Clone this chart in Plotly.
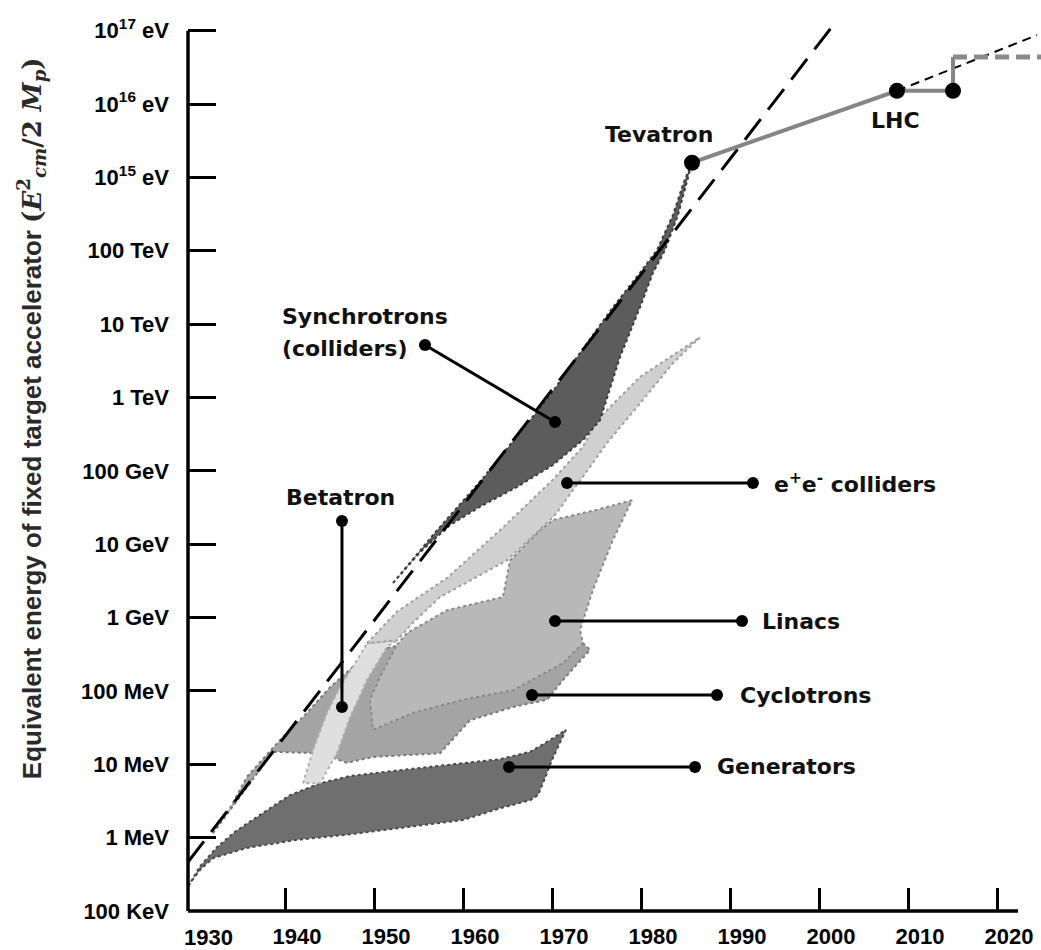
import plotly.graph_objects as go

# ---------------- data (year, log10 of equivalent energy in eV) ----------------
gen_year = [1929.1, 1930.45, 1932.36, 1934.38, 1937.19, 1940.56, 1943.93, 1947.30, 1952.92, 1958.54,
            1964.16, 1967.53, 1969.78, 1971.57, 1970.90, 1970.0, 1969.21, 1968.43, 1967.53, 1964.16,
            1960.0, 1954.38, 1946.97, 1941.35, 1935.73, 1931.91, 1930.45, 1929.33]
gen_logE = [5.33, 5.61, 5.87, 6.08, 6.31, 6.58, 6.74, 6.84, 6.92, 7.00,
            7.07, 7.17, 7.33, 7.47, 7.30, 7.06, 6.81, 6.58, 6.51, 6.40,
            6.24, 6.15, 6.04, 5.97, 5.86, 5.72, 5.56, 5.38]

cyc_year = [1931.91, 1933.82, 1935.73, 1939.44, 1942.47, 1945.06, 1947.64, 1950.67, 1955.17, 1961.91,
            1970.90, 1973.48, 1974.27, 1971.24, 1969.44, 1965.62, 1960.79, 1957.42, 1949.89, 1946.97,
            1943.93, 1938.65, 1935.5]
cyc_logE = [6.06, 6.40, 6.83, 7.33, 7.70, 8.05, 8.33, 8.56, 8.69, 8.56,
            8.69, 8.65, 8.56, 8.15, 7.88, 7.78, 7.60, 7.15, 7.10, 7.02,
            7.15, 7.17, 6.65]

lin_year = [1952.58, 1953.71, 1958.20, 1964.49, 1965.28, 1968.65, 1970.11, 1975.06, 1978.99, 1976.85,
            1974.61, 1973.15, 1973.48, 1971.24, 1965.62, 1960.0, 1954.38, 1949.89, 1949.55, 1950.67]
lin_logE = [8.63, 8.79, 9.10, 9.28, 9.78, 10.19, 10.33, 10.47, 10.60, 10.06,
            9.38, 8.83, 8.65, 8.38, 8.01, 7.88, 7.70, 7.47, 7.88, 8.19]

bet_year = [1942.02, 1943.15, 1944.72, 1946.18, 1948.09, 1949.21, 1952.58, 1951.46, 1949.21, 1947.30,
            1945.84, 1943.93]
bet_logE = [6.74, 7.19, 7.70, 8.05, 8.42, 8.65, 8.69, 8.60, 8.15, 7.64,
            7.15, 6.74]

ee_year = [1949.21, 1952.58, 1958.20, 1964.16, 1970.11, 1973.48, 1975.06, 1979.89, 1986.63,
           1983.60, 1979.89, 1976.18, 1973.48, 1972.36, 1970.56, 1969.78, 1964.94, 1957.42, 1954.38, 1952.58]
ee_logE = [8.65, 9.08, 9.54, 10.19, 10.88, 11.33, 11.69, 12.28, 12.82,
           12.47, 11.92, 11.38, 10.92, 10.74, 10.43, 10.33, 9.78, 9.28, 8.93, 8.69]

syn_year = [1952.13, 1957.08, 1962.25, 1969.78, 1972.81, 1976.85, 1979.89, 1981.80, 1983.60, 1984.83, 1985.73,
            1985.06, 1984.16, 1982.70, 1981.35, 1979.89, 1977.64, 1975.39, 1973.48, 1970.11, 1966.07,
            1961.91, 1958.54, 1955.17]
syn_logE = [9.47, 10.19, 10.90, 12.03, 12.55, 13.23, 13.70, 14.01, 14.49, 14.94, 15.20,
            14.90, 14.49, 14.01, 13.70, 13.23, 12.55, 11.69, 11.42, 11.08, 10.78,
            10.51, 10.26, 9.89]

trend_year = [1929.1, 2001.5]
trend_logE = [5.668, 17.06]

hadron_year = [1985.73, 2008.76, 2015.06, 2015.06]
hadron_logE = [15.20, 16.18, 16.18, 16.64]
upgrade_year = [2015.06, 2025.0]
upgrade_logE = [16.64, 16.64]
extrap_year = [2008.76, 2024.5]
extrap_logE = [16.18, 16.94]
milestone_year = [1985.73, 2008.76, 2015.06]
milestone_logE = [15.20, 16.18, 16.18]

# label leaders: (name, year0, logE0, year1, logE1)
leaders = [
    ("Synchrotrons", 1955.73, 12.715, 1970.34, 11.666),
    ("Betatron", 1946.4, 10.316, 1946.4, 7.781),
    ("e+e- colliders", 1971.69, 10.834, 1992.58, 10.834),
    ("Linacs", 1970.34, 8.953, 1991.35, 8.953),
    ("Cyclotrons", 1967.75, 7.944, 1988.54, 7.944),
    ("Generators", 1965.17, 6.963, 1986.07, 6.963),
]

# text labels: (text, year, logE, xanchor)
labels = [
    ("Synchrotrons", 1939.44, 13.11, "left"),
    ("(colliders)", 1939.44, 12.661, "left"),
    ("Betatron", 1946.29, 10.643, "center"),
    ("e<sup>+</sup>e<sup>-</sup> colliders", 1994.72, 10.834, "left"),
    ("Linacs", 1993.37, 8.953, "left"),
    ("Cyclotrons", 1990.90, 7.944, "left"),
    ("Generators", 1988.31, 6.963, "left"),
    ("Tevatron", 1982.02, 15.578, "center"),
    ("LHC", 2008.54, 15.78, "center"),
]

y_tick_logE = list(range(5, 18))
y_tick_text = ["100 KeV", "1 MeV", "10 MeV", "100 MeV", "1 GeV", "10 GeV", "100 GeV",
               "1 TeV", "10 TeV", "100 TeV", "10<sup>15</sup> eV", "10<sup>16</sup> eV", "10<sup>17</sup> eV"]
x_tick_years = [1940, 1950, 1960, 1970, 1980, 1990, 2000, 2010, 2020]
first_year_label = 1930

X_RANGE = [1929.1, 2024.944]
Y_RANGE = [5.0, 17.418]
AXIS_END_YEAR = 2022.36
AXIS_TOP_LOGE = 17

# ---------------- figure ----------------
def E(v):
    return [10 ** a for a in v]

fig = go.Figure()

regions = [
    (gen_year, gen_logE, "#6f6f6f", "#4a4a4a"),
    (cyc_year, cyc_logE, "#a4a4a4", "#7a7a7a"),
    (lin_year, lin_logE, "#b8b8b8", "#8a8a8a"),
    (bet_year, bet_logE, "#dfdfdf", "#b0b0b0"),
    (ee_year, ee_logE, "#d0d0d0", "#a0a0a0"),
    (syn_year, syn_logE, "#5c5c5c", "#3c3c3c"),
]
for xs, ys, fc, lc in regions:
    fig.add_trace(go.Scatter(x=xs + xs[:1], y=E(ys + ys[:1]), mode="lines", fill="toself",
                             fillcolor=fc, line=dict(color=lc, width=2, dash="dot"),
                             hoverinfo="skip", showlegend=False))

fig.add_trace(go.Scatter(x=trend_year, y=E(trend_logE), mode="lines",
                         line=dict(color="black", width=3, dash="26px,12px"),
                         showlegend=False, hoverinfo="skip"))

fig.add_trace(go.Scatter(x=extrap_year, y=E(extrap_logE), mode="lines",
                         line=dict(color="black", width=2, dash="9px,6px"),
                         showlegend=False, hoverinfo="skip"))
fig.add_trace(go.Scatter(x=hadron_year, y=E(hadron_logE), mode="lines",
                         line=dict(color="#858585", width=4),
                         showlegend=False, hoverinfo="skip"))
fig.add_trace(go.Scatter(x=upgrade_year, y=E(upgrade_logE), mode="lines",
                         line=dict(color="#8a8a8a", width=5, dash="14px,7px"),
                         showlegend=False, hoverinfo="skip"))
fig.add_trace(go.Scatter(x=milestone_year, y=E(milestone_logE), mode="markers",
                         marker=dict(color="black", size=16),
                         showlegend=False, hoverinfo="skip"))

for name, x0, y0, x1, y1 in leaders:
    fig.add_trace(go.Scatter(x=[x0, x1], y=E([y0, y1]), mode="lines+markers",
                             line=dict(color="black", width=3),
                             marker=dict(color="black", size=12),
                             showlegend=False, hoverinfo="skip"))

label_font = dict(family="DejaVu Sans", size=22, color="#111111", weight="bold")
for text, x, y, xa in labels:
    fig.add_annotation(x=x, y=y, xref="x", yref="y", text=text, showarrow=False,
                       xanchor=xa, yanchor="middle", font=label_font)

tick_font = dict(family="Liberation Sans, Arial", size=22, color="black", weight="bold")

# 1930 label (no tick mark at the axis corner)
fig.add_annotation(x=first_year_label, y=0, xref="x", yref="paper", text=str(first_year_label),
                   showarrow=False, xanchor="center", yanchor="top", xshift=12, yshift=-12,
                   font=tick_font)

# vertical axis title
math_part = ("<span style=\"font-family:'DejaVu Serif', 'Liberation Serif', serif\">"
             "(<i>E</i><sup>2</sup><sub><i>cm</i></sub>/2 <i>M</i><sub><i>p</i></sub>)</span>")
fig.add_annotation(x=-0.184, y=0.541, xref="paper", yref="paper", textangle=-90,
                   text="Equivalent energy of fixed target accelerator " + math_part,
                   showarrow=False, xanchor="center", yanchor="middle",
                   font=dict(family="Liberation Sans, Arial", size=26, color="#2a2a2a", weight="bold"))

# axis lines (y from 100 keV to 1e17 eV, x up to just past 2020)
fig.add_shape(type="line", xref="paper", yref="paper", x0=0, x1=0, y0=0,
              y1=(AXIS_TOP_LOGE - Y_RANGE[0]) / (Y_RANGE[1] - Y_RANGE[0]),
              line=dict(color="black", width=3.5))
fig.add_shape(type="line", xref="paper", yref="paper", y0=0, y1=0, x0=0,
              x1=(AXIS_END_YEAR - X_RANGE[0]) / (X_RANGE[1] - X_RANGE[0]),
              line=dict(color="black", width=3.5))

fig.update_xaxes(range=X_RANGE, showgrid=False, zeroline=False, showline=False,
                 tickmode="array", tickvals=x_tick_years, ticktext=[str(v) for v in x_tick_years],
                 ticks="inside", ticklen=23, tickwidth=3, tickcolor="black",
                 tickfont=tick_font, ticklabelshift=12, ticklabelstandoff=10)
fig.update_yaxes(type="log", range=Y_RANGE, showgrid=False, zeroline=False, showline=False,
                 tickmode="array", tickvals=[10 ** v for v in y_tick_logE], ticktext=y_tick_text,
                 ticks="inside", ticklen=28, tickwidth=3, tickcolor="black",
                 tickfont=tick_font, ticklabelstandoff=18)

fig.update_layout(width=1041, height=950, autosize=False,
                  margin=dict(l=188, r=0, t=0, b=39),
                  plot_bgcolor="white", paper_bgcolor="white", showlegend=False)

fig.write_html("out.html")
